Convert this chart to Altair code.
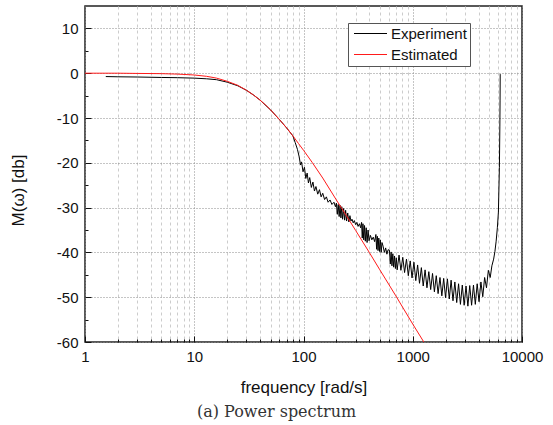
import altair as alt
import pandas as pd

# ---------------- data ----------------
exp_freq = [
    1.55, 2, 3, 5, 7, 10, 13, 16, 20, 25, 30, 35, 40, 50, 60, 70, 80,
    84, 88, 91, 94, 96, 99, 102, 105, 108, 111, 114, 118, 122, 126, 130, 135, 140,
    145, 150, 156, 162, 168, 175, 182, 190, 196,
    200, 204, 208, 212, 216, 220, 224, 228, 233, 238, 243, 248, 254, 260, 266, 272,
    278, 285, 292, 300, 308, 316, 325, 333,
    340, 345, 350, 356, 362, 368, 375, 382, 390, 398,
    410, 422, 435, 448,
    460, 467, 474, 481, 489, 497, 505, 514, 523,
    535, 550, 565, 580, 595,
    612, 623, 634, 645, 657, 669, 681, 694, 707, 720,
    749, 779, 810, 842, 876, 911, 948, 985, 1025, 1066, 1108, 1153, 1199, 1247,
    1297, 1349, 1403, 1459, 1517, 1578, 1641, 1706, 1775, 1846, 1919, 1996, 2076,
    2159, 2245, 2335, 2429, 2526, 2627, 2732, 2841, 2955, 3073, 3196, 3324, 3457,
    3595, 3739, 3888, 4044, 4206, 4374, 4549, 4731, 4920, 5117,
    5300, 5500, 5650, 5800, 5950, 6080, 6210, 6270, 6300, 6317,
]
exp_db = [
    -0.75, -0.8, -0.85, -0.95, -1.0, -1.1, -1.25, -1.45, -2.0, -2.8, -3.8, -4.9, -6.0, -8.2, -10.3, -12.2, -14.0,
    -15.5, -17.0, -18.5, -20.5, -19.8, -22.0, -21.0, -23.5, -22.3, -24.5, -23.3, -25.5, -24.3, -26.3, -25.3, -27.0, -26.0,
    -27.6, -26.8, -28.2, -27.6, -28.8, -28.3, -29.3, -28.8, -29.8,
    -29.0, -31.5, -29.3, -32.0, -29.5, -32.3, -29.8, -32.6, -30.2, -32.8, -30.6, -33.0, -31.2, -33.2, -31.8, -33.0,
    -32.6, -33.4, -32.9, -33.8, -33.3, -34.2, -33.6, -34.5,
    -33.3, -36.8, -33.6, -37.2, -34.0, -37.5, -34.5, -37.8, -35.0, -37.4,
    -36.2, -37.2, -36.6, -37.6,
    -36.0, -39.3, -36.4, -39.6, -36.8, -39.8, -37.2, -40.0, -37.8,
    -38.6, -40.0, -39.0, -40.4, -39.4,
    -39.5, -42.6, -39.9, -43.0, -40.3, -43.3, -40.8, -43.6, -41.2, -43.9,
    -40.6, -44.0, -41.1, -44.5, -41.5, -45.2, -41.9, -45.7, -42.2, -46.3, -42.8, -46.9, -43.4, -47.5,
    -43.9, -47.9, -44.3, -48.3, -44.7, -48.8, -45.2, -49.2, -45.6, -49.7, -45.8, -50.1, -45.9,
    -50.4, -46.2, -50.8, -46.6, -51.2, -47.0, -51.6, -47.3, -51.8, -47.5, -52.0, -47.4, -51.8,
    -47.3, -51.6, -47.0, -51.0, -46.6, -49.9, -45.6, -47.9, -44.0, -45.6,
    -43.0, -41.5, -39.8, -37.5, -34.5, -31.0, -21.0, -12.0, -6.0, -0.2,
]

est_freq = [1, 1.5, 2, 3, 5, 7, 10, 13, 16, 20, 25, 30, 35, 40, 45, 50, 60, 70, 80, 90,
            100, 120, 150, 200, 250, 300, 400, 500, 700, 1000, 1300]
est_db = [0, 0, 0, -0.05, -0.1, -0.2, -0.4, -0.7, -1.1, -1.8, -2.7, -3.8, -4.9, -6.0, -7.1,
          -8.2, -10.3, -12.2, -14.0, -15.7, -17.2, -19.9, -23.4, -28.3, -32.0, -35.1, -40.0,
          -43.9, -49.7, -56.0, -60.5]

series_names = ["Experiment", "Estimated"]
series_colors = ["#000000", "#ff1a1a"]

x_major = [1, 10, 100, 1000, 10000]
x_ticks = [m * d for d in [1, 10, 100, 1000] for m in range(1, 10)] + [10000]
y_major = [-60, -50, -40, -30, -20, -10, 0, 10]
y_ticks = [-60, -55, -50, -45, -40, -35, -30, -25, -20, -15, -10, -5, 0, 5, 10]

# ---------------- tables ----------------
df_exp = pd.DataFrame({"freq": exp_freq, "db": exp_db, "series": series_names[0]})
df_est = pd.DataFrame({"freq": est_freq, "db": est_db, "series": series_names[1]})

W, H = 437, 336
FONT = "Liberation Sans"

xscale = alt.Scale(type="log", domain=[1, 10000], nice=False)
yscale = alt.Scale(domain=[-60, 15], nice=False, zero=False)

is_major_x = "indexof([" + ",".join(str(v) for v in x_major) + "], datum.value) >= 0"

color = alt.Color(
    "series:N",
    scale=alt.Scale(domain=series_names, range=series_colors),
    legend=alt.Legend(
        title=None,
        orient="none",
        legendX=263,
        legendY=17,
        fillColor="white",
        strokeColor="#555555",
        padding=3,
        symbolType="M-3,0H3",
        symbolSize=121,
        symbolOffset=12,
        symbolStrokeWidth=1,
        labelFont=FONT,
        labelFontSize=15,
        labelColor="#111111",
        labelOffset=13,
        rowPadding=5,
    ),
)

x_main = alt.Axis(
    orient="bottom",
    values=x_ticks,
    labelExpr=is_major_x + " ? (datum.value + '') : ''",
    ticks=False,
    tickSize=0,
    domain=False,
    grid=True,
    gridColor={"condition": {"test": is_major_x, "value": "#8a8a8a"}, "value": "#cccccc"},
    gridDash={"condition": {"test": is_major_x, "value": [1, 2]}, "value": [3, 3]},
    gridWidth=1,
    labelFont=FONT,
    labelFontSize=15,
    labelColor="#111111",
    labelPadding=7,
    labelOverlap=False,
    labelFlush=False,
    title="frequency [rad/s]",
    titleFont=FONT,
    titleFontSize=17,
    titleFontWeight="normal",
    titleColor="#111111",
    titlePadding=15,
)

y_main = alt.Axis(
    orient="left",
    values=y_major,
    labelExpr="datum.value + ''",
    ticks=False,
    tickSize=0,
    domain=False,
    grid=True,
    gridColor="#8a8a8a",
    gridDash=[1, 2],
    gridWidth=1,
    labelFont=FONT,
    labelFontSize=15,
    labelColor="#111111",
    labelPadding=7,
    title="M(ω) [db]",
    titleFont=FONT,
    titleFontSize=17,
    titleFontWeight="normal",
    titleColor="#111111",
    titleX=-67,
    titleY=184,
    titleBaseline="middle",
)

# inward-pointing tick axes (placed on the opposite side, shifted across the plot)
x_ticks_axis = alt.Axis(
    orient="top",
    offset=-H,
    values=x_ticks,
    labels=False,
    domain=False,
    grid=False,
    ticks=True,
    tickSize={"condition": {"test": is_major_x, "value": 6}, "value": 3},
    tickColor="#111111",
    tickWidth=1,
    title=None,
)
y_ticks_axis = alt.Axis(
    orient="right",
    offset=-W,
    values=y_ticks,
    labels=False,
    domain=False,
    grid=False,
    ticks=True,
    tickSize={"condition": {"test": "datum.value % 10 == 0", "value": 6}, "value": 3},
    tickColor="#111111",
    tickWidth=1,
    title=None,
)

exp_line = alt.Chart(df_exp).mark_line(strokeWidth=1, clip=True).encode(
    x=alt.X("freq:Q", scale=xscale, axis=x_main),
    y=alt.Y("db:Q", scale=yscale, axis=y_main),
    color=color,
)

est_line = alt.Chart(df_est).mark_line(strokeWidth=1, clip=True).encode(
    x=alt.X("freq:Q", scale=xscale, axis=x_ticks_axis),
    y=alt.Y("db:Q", scale=yscale, axis=y_ticks_axis),
    color=color,
)

chart = (
    alt.layer(exp_line, est_line)
    .resolve_axis(x="independent", y="independent")
    .properties(
        width=W,
        height=H,
        autosize=alt.AutoSizeParams(type="none"),
        padding={"left": 85, "top": 6, "right": 31, "bottom": 83},
        title=alt.TitleParams(
            text="(a) Power spectrum",
            orient="bottom",
            anchor="middle",
            frame="group",
            dx=-27,
            offset=9,
            font="DejaVu Serif",
            fontSize=16,
            fontWeight="normal",
            color="#333333",
        ),
        background="white",
    )
    .configure_view(stroke="#222222", strokeWidth=1.5)
)

chart.save("out.html", embed_options={"renderer": "svg", "actions": False})
